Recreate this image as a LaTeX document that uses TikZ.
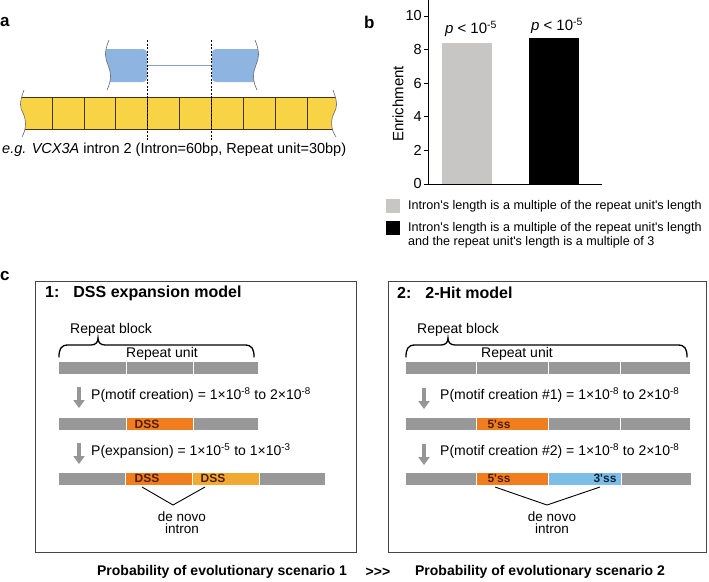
\documentclass[tikz,border=0pt]{standalone}
\usepackage{fontspec}
\setmainfont{Liberation Sans}
\usetikzlibrary{arrows.meta,calc,positioning}
\definecolor{cblue}{RGB}{142,180,225}
\definecolor{cyellow}{RGB}{249,211,70}
\definecolor{cedge}{RGB}{70,50,20}
\definecolor{cbar}{RGB}{152,152,152}
\definecolor{corange}{RGB}{240,125,30}
\definecolor{clorange}{RGB}{240,170,50}
\definecolor{csky}{RGB}{125,190,230}
\definecolor{cgraybar}{RGB}{200,197,197}
\definecolor{cframe}{RGB}{70,70,70}
\definecolor{cbrown}{RGB}{80,30,5}
\definecolor{cnavy}{RGB}{15,35,60}
\definecolor{carrow}{RGB}{150,150,150}
\tikzset{
  lab/.style={font=\fontsize{17}{19}\selectfont\bfseries, inner sep=0pt},
  txt/.style={font=\fontsize{14}{16}\selectfont, inner sep=0pt},
  legtxt/.style={font=\fontsize{12.6}{14}\selectfont, inner sep=0pt, align=left},
  ticklab/.style={font=\fontsize{14.5}{16}\selectfont, inner sep=0pt},
  title/.style={font=\fontsize{16}{18}\selectfont\bfseries, inner sep=0pt},
  seglab/.style={font=\fontsize{12}{13}\selectfont\bfseries, inner sep=0pt},
  frame/.style={draw=cframe, line width=1pt},
  wave/.style={draw=black!60, line width=0.6pt},
  brace/.style={line width=1.3pt, line cap=round},
  downarr/.style={draw=carrow, line width=3.3pt, -{Triangle[width=11pt,length=8pt]}},
  vline/.style={line width=0.9pt},
  sep/.style={white, line width=1pt}
}
\begin{document}
\begin{tikzpicture}[x=1pt, y=-1pt]
    \useasboundingbox (0,0) rectangle (709,581);

    % ---- panel a
    \node [lab, anchor=west] (la) at (0,22) {a};
    \fill [cblue, rounded corners=4pt] (100,49) rectangle (147,82);
    \fill [cblue, rounded corners=4pt] (212,49) rectangle (265,82);
    \draw [cblue!90!black, line width=0.7pt] (147,65) -- (212,65);
    \fill [white] (109,40) .. controls (104,52) and (105,58) .. (108,65) .. controls (111,72) and (112,80) .. (107,90) -- (95,90) -- (95,40) -- cycle;
    \draw [wave] (109,40) .. controls (104,52) and (105,58) .. (108,65) .. controls (111,72) and (112,80) .. (107,90);
    \fill [white] (255,40) .. controls (260,52) and (259,58) .. (256,65) .. controls (253,72) and (252,80) .. (257,90) -- (270,90) -- (270,40) -- cycle;
    \draw [wave] (255,40) .. controls (260,52) and (259,58) .. (256,65) .. controls (253,72) and (252,80) .. (257,90);

    \fill [cyellow] (15,97) rectangle (342,129);
    \draw [cedge, line width=0.6pt] (15,97) -- (342,97) (15,129) -- (342,129);
    \foreach \x in {0,...,8}
        \draw [cedge, line width=0.8pt] ({52+31.9*\x},97) -- ({52+31.9*\x},129);
    \fill [white] (24,90) .. controls (19,103) and (20,108) .. (23,113) .. controls (26,119) and (27,128) .. (22,137) -- (10,137) -- (10,90) -- cycle;
    \draw [wave] (24,90) .. controls (19,103) and (20,108) .. (23,113) .. controls (26,119) and (27,128) .. (22,137);
    \fill [white] (333,90) .. controls (338,103) and (337,108) .. (334,113) .. controls (331,119) and (330,128) .. (336,137) -- (348,137) -- (348,90) -- cycle;
    \draw [wave] (333,90) .. controls (338,103) and (337,108) .. (334,113) .. controls (331,119) and (330,128) .. (336,137);

    \foreach \x in {147,211}
        \draw [line width=0.7pt, dash pattern=on 2pt off 1.5pt] (\x,40) -- (\x,140);
    \node [txt, anchor=west, font=\fontsize{14.5}{16}\selectfont] (capa) at (2,150) {\textit{e.g. VCX3A} intron 2 (Intron=60bp, Repeat unit=30bp)};

    % ---- panel b
    \node [lab, anchor=west] (lb) at (364,22) {b};
    \fill [cgraybar] (442,184) rectangle (492,43);
    \fill [black] (529,184) rectangle (579,38);
    \draw [line width=0.8pt] (428,0) -- (428,184) -- (602,184);
    \foreach \v in {0,2,...,10} {
        \draw [line width=0.8pt] (424,{184-16.8*\v}) -- (428,{184-16.8*\v});
        \node [ticklab, anchor=east] (t\v) at (422,{184-16.8*\v}) {\v};
    }
    \node [ticklab, rotate=90, font=\fontsize{15}{16}\selectfont] (ylab) at (398,104) {Enrichment};
    \node [txt, font=\fontsize{15}{16}\selectfont] (pA) at (471,29) {\textit{p} < 10\textsuperscript{-5}};
    \node [txt, font=\fontsize{15}{16}\selectfont] (pB) at (557,26) {\textit{p} < 10\textsuperscript{-5}};

    \fill [cgraybar] (386,199) rectangle (400,213);
    \fill [black] (386,221) rectangle (400,235);
    \node [legtxt, anchor=west] (legA) at (408,206) {Intron\textquotesingle s length is a multiple of the repeat unit\textquotesingle s length};
    \node [legtxt, anchor=north west] (legB) at (408,222) {Intron\textquotesingle s length is a multiple of the repeat unit\textquotesingle s length\\and the repeat unit\textquotesingle s length is a multiple of 3};

    % ---- panel c
    \node [lab, anchor=west] (lc) at (0,276) {c};
    \draw [frame] (35,281) rectangle (356,552);
    \draw [frame] (388,281) rectangle (706,552);

    % model 1
    \node [title, anchor=west] (tA) at (45,293) {1:\hspace{14pt}DSS expansion model};
    \node [txt, anchor=west] (blkA) at (70,330) {Repeat block};
    \draw [brace] (59,357) .. controls (59,349) and (61,345) .. (68,345) -- (91,345) .. controls (96,345) and (98,342) .. (98,338) .. controls (98,342) and (100,345) .. (105,345) -- (245,345) .. controls (252,345) and (254,349) .. (254,357);
    \node [txt] (unA) at (162,354) {Repeat unit};
    \fill [cbar] (59,362) rectangle (258,374);
    \foreach \x in {126,193} \draw [sep] (\x,362) -- (\x,374);

    \draw [downarr] (79,387) -- (79,408);
    \node [txt, anchor=west] (pA1) at (91,395) {P(motif creation) = 1×10\textsuperscript{-8} to 2×10\textsuperscript{-8}};
    \fill [cbar] (59,418) rectangle (258,430);
    \fill [corange] (126,418) rectangle (193,430);
    \foreach \x in {126,193} \draw [sep] (\x,418) -- (\x,430);
    \node [seglab, text=cbrown] (dA) at (147,424) {DSS};

    \draw [downarr] (79,443) -- (79,464);
    \node [txt, anchor=west] (pA2) at (91,451) {P(expansion) = 1×10\textsuperscript{-5} to 1×10\textsuperscript{-3}};
    \fill [cbar] (59,473) rectangle (325,485);
    \fill [corange] (125,473) rectangle (192,485);
    \fill [clorange] (192,473) rectangle (259,485);
    \foreach \x in {125,192,259} \draw [sep] (\x,473) -- (\x,485);
    \node [seglab, text=cbrown] (dB) at (147,478) {DSS};
    \node [seglab, text=cbrown] (dC) at (213,478) {DSS};
    \coordinate (vAl) at (142,487);
    \coordinate (vAr) at (205,487);
    \coordinate (vA) at (173,505);
    \draw [vline] (vAl) -- (vA) -- (vAr);
    \node [txt, align=center, font=\fontsize{13.5}{12}\selectfont] (nA) at (182,523) {de novo\\intron};

    % model 2
    \node [title, anchor=west] (tB) at (397,293) {2:\hspace{14pt}2-Hit model};
    \node [txt, anchor=west] (blkB) at (417,330) {Repeat block};
    \draw [brace] (406,357) .. controls (406,349) and (408,345) .. (415,345) -- (441,345) .. controls (446,345) and (448,342) .. (448,338) .. controls (448,342) and (450,345) .. (455,345) -- (678,345) .. controls (685,345) and (687,349) .. (687,357);
    \node [txt] (unB) at (517,354) {Repeat unit};
    \fill [cbar] (406,362) rectangle (690,374);
    \foreach \x in {476,548,620} \draw [sep] (\x,362) -- (\x,374);

    \draw [downarr] (424,388) -- (424,409);
    \node [txt, anchor=west] (pB1) at (440,395) {P(motif creation \#1) = 1×10\textsuperscript{-8} to 2×10\textsuperscript{-8}};
    \fill [cbar] (406,418) rectangle (690,430);
    \fill [corange] (476,418) rectangle (548,430);
    \foreach \x in {476,548,620} \draw [sep] (\x,418) -- (\x,430);
    \node [seglab, text=cbrown] (sA) at (499,424) {5\textquotesingle ss};

    \draw [downarr] (424,444) -- (424,465);
    \node [txt, anchor=west] (pB2) at (440,451) {P(motif creation \#2) = 1×10\textsuperscript{-8} to 2×10\textsuperscript{-8}};
    \fill [cbar] (406,473) rectangle (691,485);
    \fill [corange] (476,473) rectangle (548,485);
    \fill [csky] (548,473) rectangle (621,485);
    \foreach \x in {476,548,621} \draw [sep] (\x,473) -- (\x,485);
    \node [seglab, text=cbrown] (sB) at (499,478) {5\textquotesingle ss};
    \node [seglab, text=cnavy] (sC) at (605,478) {3\textquotesingle ss};
    \coordinate (vBl) at (495,487);
    \coordinate (vBr) at (600,487);
    \coordinate (vB) at (547,505);
    \draw [vline] (vBl) -- (vB) -- (vBr);
    \node [txt, align=center, font=\fontsize{13.5}{12}\selectfont] (nB) at (552,523) {de novo\\intron};

    % comparison
    \node [txt, font=\fontsize{14}{16}\selectfont\bfseries] (prA) at (222,572) {Probability of evolutionary scenario 1};
    \node [txt, font=\fontsize{14}{16}\selectfont\bfseries] (gt) at (378,572) {>{}>{}>};
    \node [txt, font=\fontsize{14}{16}\selectfont\bfseries] (prB) at (540,572) {Probability of evolutionary scenario 2};
\end{tikzpicture}
\end{document}
